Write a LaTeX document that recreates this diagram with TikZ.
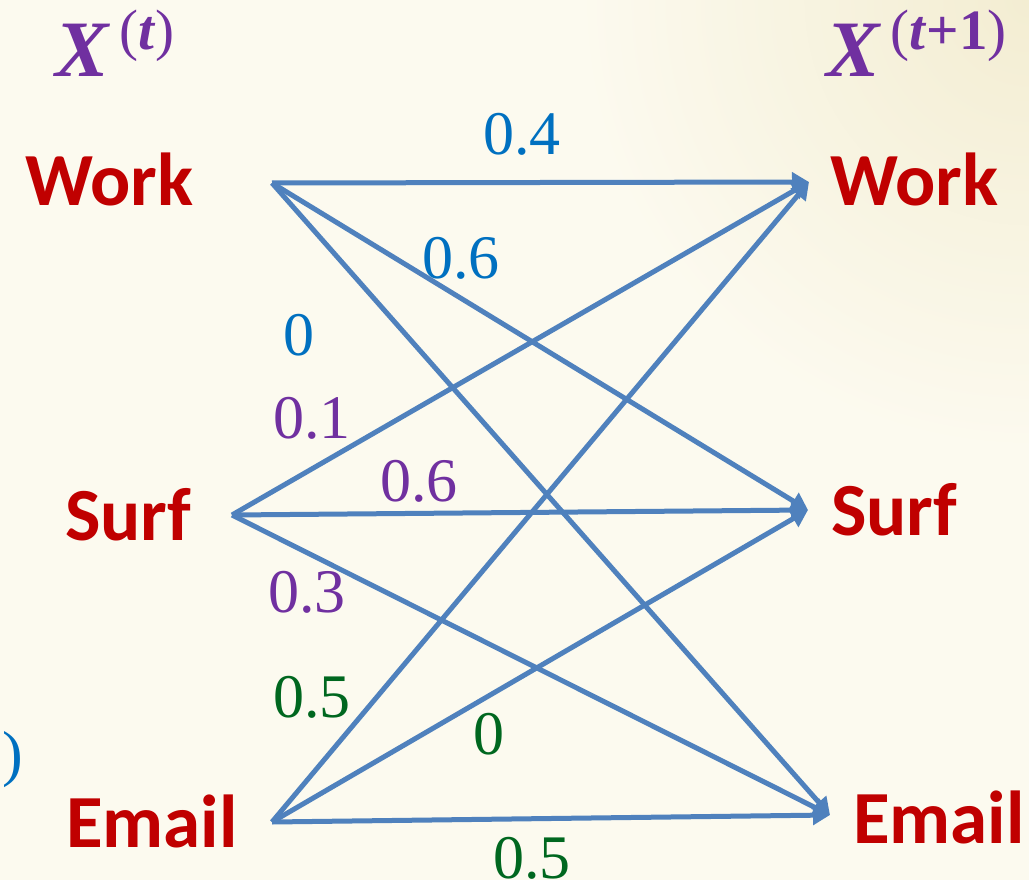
\documentclass[tikz,border=0pt]{standalone}
\usepackage{fontspec}
\setmainfont{Liberation Serif}
\setsansfont{Carlito}
\usepackage{xcolor}
\usepackage{tikz}
\usetikzlibrary{
	arrows.meta,
	positioning
}
\definecolor{DarkRed}{RGB}{192,0,0}
\definecolor{Violet}{RGB}{112,48,160}
\definecolor{OceanBlue}{RGB}{0,112,192}
\definecolor{LeafGreen}{RGB}{0,103,31}
\definecolor{SteelBlue}{RGB}{79,129,189}
\definecolor{Cream}{RGB}{252,250,239}
\definecolor{CreamDark}{RGB}{243,237,210}

\newcommand{\timesup}[1]{\raisebox{27pt}{\fontsize{57}{60}\selectfont\,(#1)}}

\tikzset{
	state/.style={anchor=base west, inner sep=0pt, text=DarkRed,
		font=\sffamily\bfseries\fontsize{75}{80}\selectfont},
	prob/.style={anchor=base west, inner sep=0pt,
		font=\rmfamily\fontsize{62}{70}\selectfont},
	timelabel/.style={anchor=base west, inner sep=0pt, text=Violet,
		font=\rmfamily\fontsize{80}{84}\selectfont},
	trans/.style={SteelBlue, line width=5pt, -{Triangle[length=17pt,width=19pt]}}
}

\begin{document}
\begin{tikzpicture}[x=1pt, y=-1pt]
		% background
		\fill[Cream] (0,0) rectangle (1029,880);
		\begin{scope}
			\clip (0,0) rectangle (1029,880);
			\shade[inner color=CreamDark, outer color=Cream] (1029,0) circle (450pt);
		\end{scope}
		\useasboundingbox (0,0) rectangle (1029,880);
		
		\node[timelabel] (xt) at (55,77) {\textbf{\textit{X}}\timesup{\textbf{\textit{t}}}};
		\node[timelabel] (xt1) at (826,77) {\textbf{\textit{X}}\timesup{\textbf{\textit{t}+1}}};
		
		\node[state] (work-t) at (25,206) {Work};
		\node[state] (surf-t) at (65,540) {Surf};
		\node[state] (email-t) at (66,847) {Email};
		\node[state] (work-t1) at (830,205) {Work};
		\node[state] (surf-t1) at (831,535) {Surf};
		\node[state] (email-t1) at (853,843) {Email};
		
		\coordinate (work-out) at (272,183);
		\coordinate (surf-out) at (232,515);
		\coordinate (email-out) at (272,822);
		\coordinate (work-in) at (809,182);
		\coordinate (surf-in) at (808,510);
		\coordinate (email-in) at (830,815);
		
		\foreach \s in {work,surf,email}
			\foreach \t in {work,surf,email}
				\draw[trans] (\s-out) -- (\t-in);
		
		% from Work
		\node[prob, text=OceanBlue] (p-ww) at (483,155) {0.4};
		\node[prob, text=OceanBlue] (p-ws) at (422,278) {0.6};
		\node[prob, text=OceanBlue] (p-we) at (283,355) {0};
		% from Surf
		\node[prob, text=Violet] (p-sw) at (273,438) {0.1};
		\node[prob, text=Violet] (p-ss) at (380,501) {0.6};
		\node[prob, text=Violet] (p-se) at (268,612) {0.3};
		% from Email
		\node[prob, text=LeafGreen] (p-ew) at (273,717) {0.5};
		\node[prob, text=LeafGreen] (p-es) at (473,754) {0};
		\node[prob, text=LeafGreen] (p-ee) at (493,878) {0.5};
		
		\node[prob, text=OceanBlue] (paren) at (2,774) {)};
	\end{tikzpicture}
\end{document}
